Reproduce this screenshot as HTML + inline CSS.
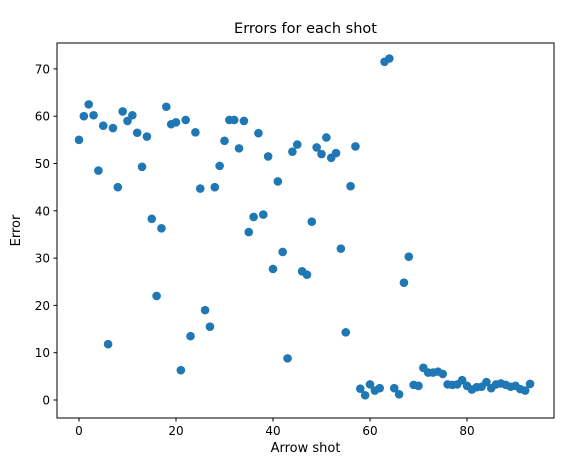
<!DOCTYPE html>
<html><head><meta charset="utf-8"><style>
body{margin:0;background:#fff;}
svg{display:block;font-family:"DejaVu Sans","Liberation Sans",sans-serif;}
</style></head><body>
<svg id="chart" width="569" height="461" viewBox="0 0 569 461">
<rect width="569" height="461" fill="#fff"/>
<text x="305.5" y="33" font-size="14.5" text-anchor="middle">Errors for each shot</text>
<g id="points"></g>
<g id="xticks"></g>
<g id="yticks"></g>
<rect x="57" y="43" width="497" height="375" fill="none" stroke="#000" stroke-width="1"/>
<text x="305.5" y="452" font-size="13" text-anchor="middle">Arrow shot</text>
<text x="20" y="230.5" font-size="13" text-anchor="middle" transform="rotate(-90 20 230.5)">Error</text>
</svg>
<script>
const errors = [55,60,62.5,60.2,48.5,58,11.8,57.5,45,61,59,60.2,56.5,49.3,55.7,38.3,22,36.3,62,58.3,58.7,6.3,59.2,13.5,56.6,44.7,19,15.5,45,49.5,54.8,59.2,59.2,53.2,59,35.5,38.7,56.4,39.2,51.5,27.7,46.2,31.3,8.8,52.5,54,27.2,26.5,37.7,53.4,52,55.5,51.2,52.2,32,14.3,45.2,53.6,2.4,1,3.3,2,2.5,71.5,72.2,2.5,1.2,24.8,30.3,3.2,3,6.8,5.8,5.8,6,5.5,3.3,3.2,3.3,4.2,3,2.2,2.7,2.8,3.8,2.5,3.3,3.5,3.2,2.8,3,2.3,2,3.4];
const xTicks = [0,20,40,60,80];
const yTicks = [0,10,20,30,40,50,60,70];
const NS = "http://www.w3.org/2000/svg";
function xs(v){return 79 + v*4.85;}
function ys(v){return 400 - v*4.73;}
const pg = document.getElementById('points');
errors.forEach((e,i)=>{
  const c = document.createElementNS(NS,'circle');
  c.setAttribute('cx', xs(i)); c.setAttribute('cy', ys(e)); c.setAttribute('r', 4.3);
  c.setAttribute('fill', '#1f77b4');
  
  
  pg.appendChild(c);
});
const xg = document.getElementById('xticks');
xTicks.forEach(t=>{
  const l = document.createElementNS(NS,'line');
  l.setAttribute('x1', xs(t)); l.setAttribute('x2', xs(t)); l.setAttribute('y1', 418); l.setAttribute('y2', 421.5);
  l.setAttribute('stroke', '#000');
  
  
  xg.appendChild(l);
  const tx = document.createElementNS(NS,'text');
  tx.setAttribute('x', xs(t)); tx.setAttribute('y', 435); tx.setAttribute('font-size', 12); tx.setAttribute('text-anchor', 'middle');
  tx.textContent = t;
  
  
  xg.appendChild(tx);
});
const yg = document.getElementById('yticks');
yTicks.forEach(t=>{
  const l = document.createElementNS(NS,'line');
  l.setAttribute('x1', 53.5); l.setAttribute('x2', 57); l.setAttribute('y1', ys(t)); l.setAttribute('y2', ys(t));
  l.setAttribute('stroke', '#000');
  
  
  yg.appendChild(l);
  const tx = document.createElementNS(NS,'text');
  tx.setAttribute('x', 50); tx.setAttribute('y', ys(t)+4.5); tx.setAttribute('font-size', 12); tx.setAttribute('text-anchor', 'end');
  tx.textContent = t;
  
  
  yg.appendChild(tx);
});
</script>
</body></html>
